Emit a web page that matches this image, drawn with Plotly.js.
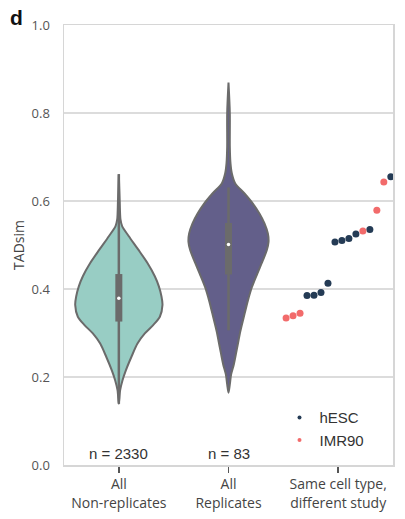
<!DOCTYPE html>
<html>
<head>
<meta charset="utf-8">
<script src="https://cdn.plot.ly/plotly-3.0.1.min.js"></script>
<style>html,body{margin:0;padding:0;background:#fff;}#chart{width:405px;height:519px;}</style>
</head>
<body>
<div id="chart"></div>
<script>
// ---- data ----
const categories = ["All<br>Non-replicates", "All<br>Replicates", "Same cell type,<br>different study"];
const counts = ["n = 2330", "n = 83"];

// violin density profiles (TADsim value, half-width in category units)
const nonRepY  = [0.139,0.170,0.192,0.215,0.246,0.276,0.299,0.318,0.337,0.364,0.383,0.406,0.429,0.459,0.490,0.520,0.543,0.558,0.600,0.661];
const nonRepHW = [0,0.012,0.033,0.064,0.115,0.170,0.237,0.313,0.374,0.398,0.389,0.365,0.328,0.261,0.176,0.091,0.030,0.015,0.008,0];
const repY  = [0.164,0.183,0.206,0.229,0.267,0.305,0.343,0.373,0.404,0.434,0.465,0.488,0.507,0.526,0.549,0.571,0.594,0.617,0.640,0.663,0.686,0.724,0.800,0.869];
const repHW = [0,0.012,0.024,0.049,0.079,0.109,0.146,0.176,0.213,0.261,0.313,0.349,0.365,0.359,0.328,0.283,0.222,0.146,0.061,0.030,0.018,0.012,0.012,0];

// box summaries: [whisker low, q1, median, q3, whisker high]
const nonRepBox = [0.139, 0.326, 0.379, 0.434, 0.661];
const repBox    = [0.306, 0.433, 0.501, 0.550, 0.631];

// same cell type, different study
const hescValues  = [0.385,0.386,0.392,0.413,0.507,0.510,0.515,0.525,0.535,0.655];
const imr90Values = [0.334,0.339,0.345,0.532,0.579,0.643];

// ---- build traces ----
const gray = "#6b6b6b";
function violin(center, ys, hws, fill) {
  const x = [], y = [];
  for (let i = 0; i < ys.length; i++) { x.push(center - hws[i]); y.push(ys[i]); }
  for (let i = ys.length - 1; i >= 0; i--) { x.push(center + hws[i]); y.push(ys[i]); }
  return {x, y, type: "scatter", mode: "lines", fill: "toself", fillcolor: fill,
    line: {color: gray, width: 2, shape: "spline", smoothing: 0.8}, hoverinfo: "skip", showlegend: false};
}
function boxTraces(center, b) {
  return [
    {x: [center, center], y: [b[0], b[4]], type: "scatter", mode: "lines", line: {color: gray, width: 2.5}, hoverinfo: "skip", showlegend: false},
    {x: [center, center], y: [b[1], b[3]], type: "scatter", mode: "lines", line: {color: gray, width: 7}, hoverinfo: "skip", showlegend: false},
    {x: [center], y: [b[2]], type: "scatter", mode: "markers", marker: {color: "#ffffff", size: 3.5}, hoverinfo: "skip", showlegend: false}
  ];
}

// points laid out left-to-right in value order
const pts = hescValues.map(v => ({v, g: "hESC"})).concat(imr90Values.map(v => ({v, g: "IMR90"})));
pts.sort((a, b) => a.v - b.v);
const span = 0.955, start = -0.475;
pts.forEach((p, i) => { p.x = 2 + start + i * span / (pts.length - 1); });
const colors = {hESC: "#243b55", IMR90: "#f26b6b"};

const traces = [
  violin(0, nonRepY, nonRepHW, "#98cdc4"),
  ...boxTraces(0, nonRepBox),
  violin(1, repY, repHW, "#635f8a"),
  ...boxTraces(1, repBox)
];
["hESC", "IMR90"].forEach(g => {
  const sel = pts.filter(p => p.g === g);
  traces.push({x: sel.map(p => p.x), y: sel.map(p => p.v), type: "scatter", mode: "markers", name: g,
    marker: {color: colors[g], size: 7}, cliponaxis: false, showlegend: false});
  traces.push({x: [null], y: [null], type: "scatter", mode: "markers", name: g,
    marker: {color: colors[g], size: 4}, showlegend: true});
});

const annotations = counts.map((t, i) => ({x: i, y: 0, xref: "x", yref: "y", text: t, showarrow: false,
  yanchor: "bottom", yshift: 1, font: {family: "Liberation Sans, Arial, sans-serif", size: 15, color: "#333"}}));
annotations.push({x: -0.143, y: 1.018, xref: "paper", yref: "paper", text: "<b>d</b>", showarrow: false,
  xanchor: "center", yanchor: "middle", font: {family: "Liberation Sans, Arial, sans-serif", size: 21, color: "#111"}});

const layout = {
  width: 405, height: 519,
  margin: {l: 64, r: 12, t: 25, b: 54},
  paper_bgcolor: "#fff", plot_bgcolor: "#fff",
  showlegend: true,
  legend: {x: 0.655, y: 0.145, xanchor: "left", yanchor: "top", bgcolor: "rgba(0,0,0,0)",
    font: {family: "Liberation Sans, Arial, sans-serif", size: 15, color: "#333"}, tracegroupgap: 0},
  xaxis: {range: [-0.5, 2.5], tickmode: "array", tickvals: [0, 1, 2], ticktext: categories,
    showgrid: false, zeroline: false, showline: true, mirror: true, linecolor: "#d6d6d6", linewidth: 1.5,
    ticks: "outside", ticklen: 6, tickwidth: 1.5, tickcolor: "#555",
    tickfont: {family: "Open Sans, Noto Sans, sans-serif", size: 14, color: "#444"}},
  yaxis: {range: [0, 1], tickvals: [0, 0.2, 0.4, 0.6, 0.8, 1.0], tickformat: ".1f",
    showgrid: true, gridcolor: "#dcdcdc", gridwidth: 1.5, zeroline: false,
    showline: true, mirror: true, linecolor: "#d6d6d6", linewidth: 1.5, ticks: "", ticklabelstandoff: 10,
    tickfont: {family: "Open Sans, Noto Sans, sans-serif", size: 13, color: "#555"},
    title: {text: "TADsim", standoff: 3, font: {family: "Open Sans, Noto Sans, sans-serif", size: 14, color: "#444"}}},
  annotations
};
Plotly.newPlot("chart", traces, layout, {displayModeBar: false, staticPlot: true});
</script>
</body>
</html>
